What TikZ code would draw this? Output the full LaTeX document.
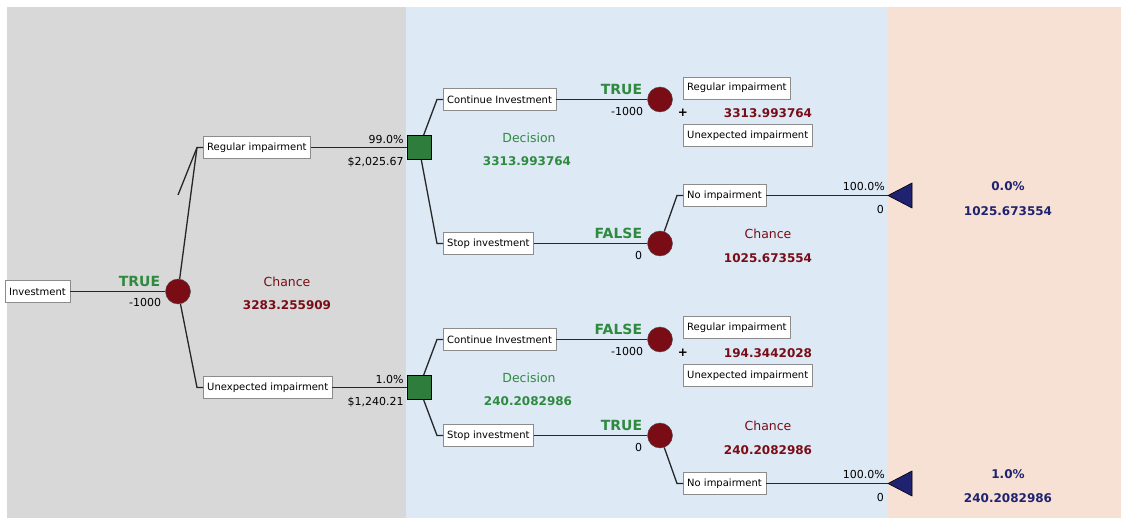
\documentclass[tikz,border=0pt]{standalone}
\usepackage{fontspec}
\setmainfont{DejaVu Sans}
\usepackage{tikz}
\usetikzlibrary{positioning,calc}

\definecolor{leftbg}{HTML}{D8D8D8}
\definecolor{midbg}{HTML}{DDE9F5}
\definecolor{rightbg}{HTML}{F7E1D4}
\definecolor{chancered}{HTML}{7A0C16}
\definecolor{decgreen}{HTML}{2E7D3C}
\definecolor{lblgreen}{HTML}{2F8A40}
\definecolor{termblue}{HTML}{1F2270}
\definecolor{boxgray}{HTML}{8C8C8C}

\tikzset{
  branch/.style={draw=boxgray, fill=white, font=\fontsize{10}{12}\selectfont, inner xsep=4pt, inner ysep=0pt, minimum height=22pt, anchor=west},
  chance/.style={circle, draw=black!70, fill=chancered, minimum size=25pt, inner sep=0pt},
  decision/.style={rectangle, draw=black, fill=decgreen, minimum size=24pt, inner sep=0pt},
  small/.style={font=\fontsize{11}{13}\selectfont, inner sep=0pt},
  boolgreen/.style={font=\fontsize{14}{16}\selectfont\bfseries, text=lblgreen, inner sep=0pt},
  redname/.style={font=\fontsize{12.5}{15}\selectfont, text=chancered},
  redval/.style={font=\fontsize{12}{14}\selectfont\bfseries, text=chancered},
  greenname/.style={font=\fontsize{12.5}{15}\selectfont, text=lblgreen},
  greenval/.style={font=\fontsize{12}{14}\selectfont\bfseries, text=lblgreen},
  blueval/.style={font=\fontsize{12}{14}\selectfont\bfseries, text=termblue},
  plus/.style={font=\fontsize{12}{14}\selectfont\bfseries},
  link/.style={line width=1.3pt, black!85},
  terminal/.style={draw=black, fill=termblue, line width=0.6pt},
}

\begin{document}
\begin{tikzpicture}[x=1pt, y=-1pt]
    \useasboundingbox (0,0) rectangle (1121,518);
    \fill[white] (0,0) rectangle (1121,518);
    \fill[leftbg] (7,7) rectangle (406,518);
    \fill[midbg] (406,7) rectangle (887,518);
    \fill[rightbg] (887,7) rectangle (1121,518);

    % root chance
    \node[branch, anchor=east] (inv) at (70,291.5) {Investment};
    \node[chance] (c0) at (178,291.5) {};
    \node[boolgreen, above left=5pt and 5pt of c0.west] (c0b) {TRUE};
    \node[small, below left=7pt and 4pt of c0.west] (c0p) {-1000};
    \node[redname] (c0n) at (287,282) {Chance};
    \node[redval] (c0v) at (287,305) {3283.255909};

    \node[branch] (ri1) at (203,147.5) {Regular impairment};
    \node[branch] (ui1) at (203,387.5) {Unexpected impairment};
    \node[decision] (d1) at (419,147.5) {};
    \node[decision] (d2) at (419,387.5) {};
    \coordinate (stub) at (178,195);

    \draw[link] (inv) -- (c0);
    \draw[link] (c0) -- ([xshift=-6pt]ri1.west) -- (ri1.west);
    \draw[link] (stub) -- ([xshift=-6pt]ri1.west);
    \draw[link] (c0) -- ([xshift=-6pt]ui1.west) -- (ui1.west);
    \draw[link] (ri1) -- (d1);
    \draw[link] (ui1) -- (d2);

    \node[small, above left=4pt and 3pt of d1.west] (d1q) {99.0\%};
    \node[small, below left=9pt and 3pt of d1.west] (d1p) {\$2,025.67};
    \node[small, above left=4pt and 3pt of d2.west] (d2q) {1.0\%};
    \node[small, below left=9pt and 3pt of d2.west] (d2p) {\$1,240.21};

    % upper decision
    \node[branch] (ci1) at (443,99.5) {Continue Investment};
    \node[branch] (si1) at (443,243.5) {Stop investment};
    \node[chance] (c1) at (660,99.5) {};
    \node[chance] (c2) at (660,243.5) {};
    \draw[link] (d1) -- ([xshift=-6pt]ci1.west) -- (ci1.west);
    \draw[link] (d1) -- ([xshift=-6pt]si1.west) -- (si1.west);
    \draw[link] (ci1) -- (c1);
    \draw[link] (si1) -- (c2);
    \node[greenname] (d1n) at (529,138) {Decision};
    \node[greenval] (d1v) at (527,161) {3313.993764};

    \node[boolgreen, above left=5pt and 5pt of c1.west] (c1b) {TRUE};
    \node[small, below left=8pt and 4pt of c1.west] (c1p) {-1000};
    \node[plus] (pl1) at (683,113) {+};
    \node[branch] (ri2) at (683,88) {Regular impairment};
    \node[redval] (c1v) at (768,113) {3313.993764};
    \node[branch] (ui2) at (683,135.5) {Unexpected impairment};

    \node[boolgreen, above left=5pt and 5pt of c2.west] (c2b) {FALSE};
    \node[small, below left=8pt and 5pt of c2.west] (c2p) {0};
    \node[branch] (ni1) at (683,195.5) {No impairment};
    \coordinate (t1) at (888,195.5);
    \draw[link] (c2) -- ([xshift=-6pt]ni1.west) -- (ni1.west);
    \draw[link] (ni1) -- (t1);
    \draw[terminal] (t1) -- ++(24,-12.5) -- ++(0,25) -- cycle;
    \node[small, above left=5pt and 3pt of t1] (t1q) {100.0\%};
    \node[small, below left=10pt and 4pt of t1] (t1p) {0};
    \node[redname] (c2n) at (768,234) {Chance};
    \node[redval] (c2v) at (768,258) {1025.673554};
    \node[blueval] (t1n) at (1008,186) {0.0\%};
    \node[blueval] (t1v) at (1008,211) {1025.673554};

    % lower decision
    \node[branch] (ci2) at (443,339.5) {Continue Investment};
    \node[branch] (si2) at (443,435.5) {Stop investment};
    \node[chance] (c3) at (660,339.5) {};
    \node[chance] (c4) at (660,435.5) {};
    \draw[link] (d2) -- ([xshift=-6pt]ci2.west) -- (ci2.west);
    \draw[link] (d2) -- ([xshift=-6pt]si2.west) -- (si2.west);
    \draw[link] (ci2) -- (c3);
    \draw[link] (si2) -- (c4);
    \node[greenname] (d2n) at (529,378) {Decision};
    \node[greenval] (d2v) at (528,401) {240.2082986};

    \node[boolgreen, above left=5pt and 5pt of c3.west] (c3b) {FALSE};
    \node[small, below left=8pt and 4pt of c3.west] (c3p) {-1000};
    \node[plus] (pl2) at (683,353) {+};
    \node[branch] (ri3) at (683,327.5) {Regular impairment};
    \node[redval] (c3v) at (768,353) {194.3442028};
    \node[branch] (ui3) at (683,375.5) {Unexpected impairment};

    \node[boolgreen, above left=5pt and 5pt of c4.west] (c4b) {TRUE};
    \node[small, below left=8pt and 5pt of c4.west] (c4p) {0};
    \node[branch] (ni2) at (683,483.5) {No impairment};
    \coordinate (t2) at (888,483.5);
    \draw[link] (c4) -- ([xshift=-6pt]ni2.west) -- (ni2.west);
    \draw[link] (ni2) -- (t2);
    \draw[terminal] (t2) -- ++(24,-12.5) -- ++(0,25) -- cycle;
    \node[small, above left=5pt and 3pt of t2] (t2q) {100.0\%};
    \node[small, below left=10pt and 4pt of t2] (t2p) {0};
    \node[redname] (c4n) at (768,426) {Chance};
    \node[redval] (c4v) at (768,450) {240.2082986};
    \node[blueval] (t2n) at (1008,474) {1.0\%};
    \node[blueval] (t2v) at (1008,498) {240.2082986};
\end{tikzpicture}
\end{document}
